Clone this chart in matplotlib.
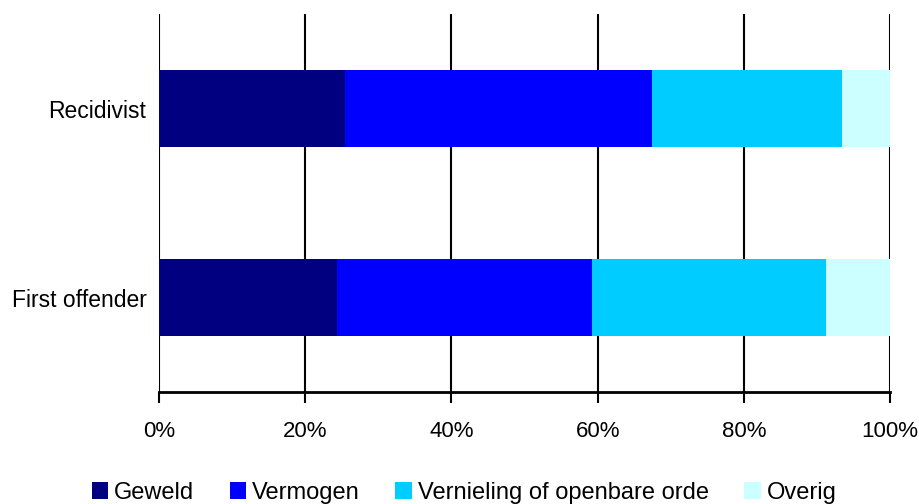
import numpy as np
from matplotlib import pyplot as plt

# data (percentages)
categories = ["First offender", "Recidivist"]
series = ["Geweld", "Vermogen", "Vernieling of openbare orde", "Overig"]
geweld = [24.4, 25.5]
vermogen = [34.8, 41.9]
vernieling = [32.0, 26.0]
overig = [8.8, 6.6]
colors = ["#000080", "#0000FF", "#00CCFF", "#CCFFFF"]
xticks = [0, 20, 40, 60, 80, 100]


def main():
    plt.rcParams["font.family"] = ["Liberation Sans", "DejaVu Sans"]

    fig = plt.figure(figsize=(9.19, 5.04), dpi=100)
    ax = fig.add_axes([0.173, 0.222, 0.7955, 0.75])

    y = np.arange(len(categories))
    left = np.zeros(len(categories))
    for name, vals, c in zip(series, [geweld, vermogen, vernieling, overig], colors):
        ax.barh(y, vals, left=left, height=0.41, color=c, label=name, zorder=3)
        left += np.array(vals)

    # axes
    ax.set_xlim(0, 100)
    ax.set_ylim(-0.5, 1.5)
    ax.set_xticks(xticks)
    ax.set_xticklabels([f"{t}%" for t in xticks], fontsize=16)
    ax.set_yticks(y)
    ax.set_yticklabels(categories, fontsize=16.5)
    ax.tick_params(axis="y", length=0, pad=9)
    ax.tick_params(axis="x", direction="out", length=8, width=1.5, pad=13)

    for s in ["top", "right", "left"]:
        ax.spines[s].set_visible(False)
    ax.spines["bottom"].set_linewidth(2)

    # grid
    ax.xaxis.grid(True, color="black", linewidth=1.5, zorder=0)
    ax.set_axisbelow(True)

    fig.legend(loc="center", bbox_to_anchor=(0.505, 0.022), ncol=4, frameon=False,
               fontsize=17, handlelength=0.7, handleheight=0.7, handletextpad=0.25,
               columnspacing=1.5)

    fig.savefig("out.png", dpi=100)


if __name__ == "__main__":
    main()
